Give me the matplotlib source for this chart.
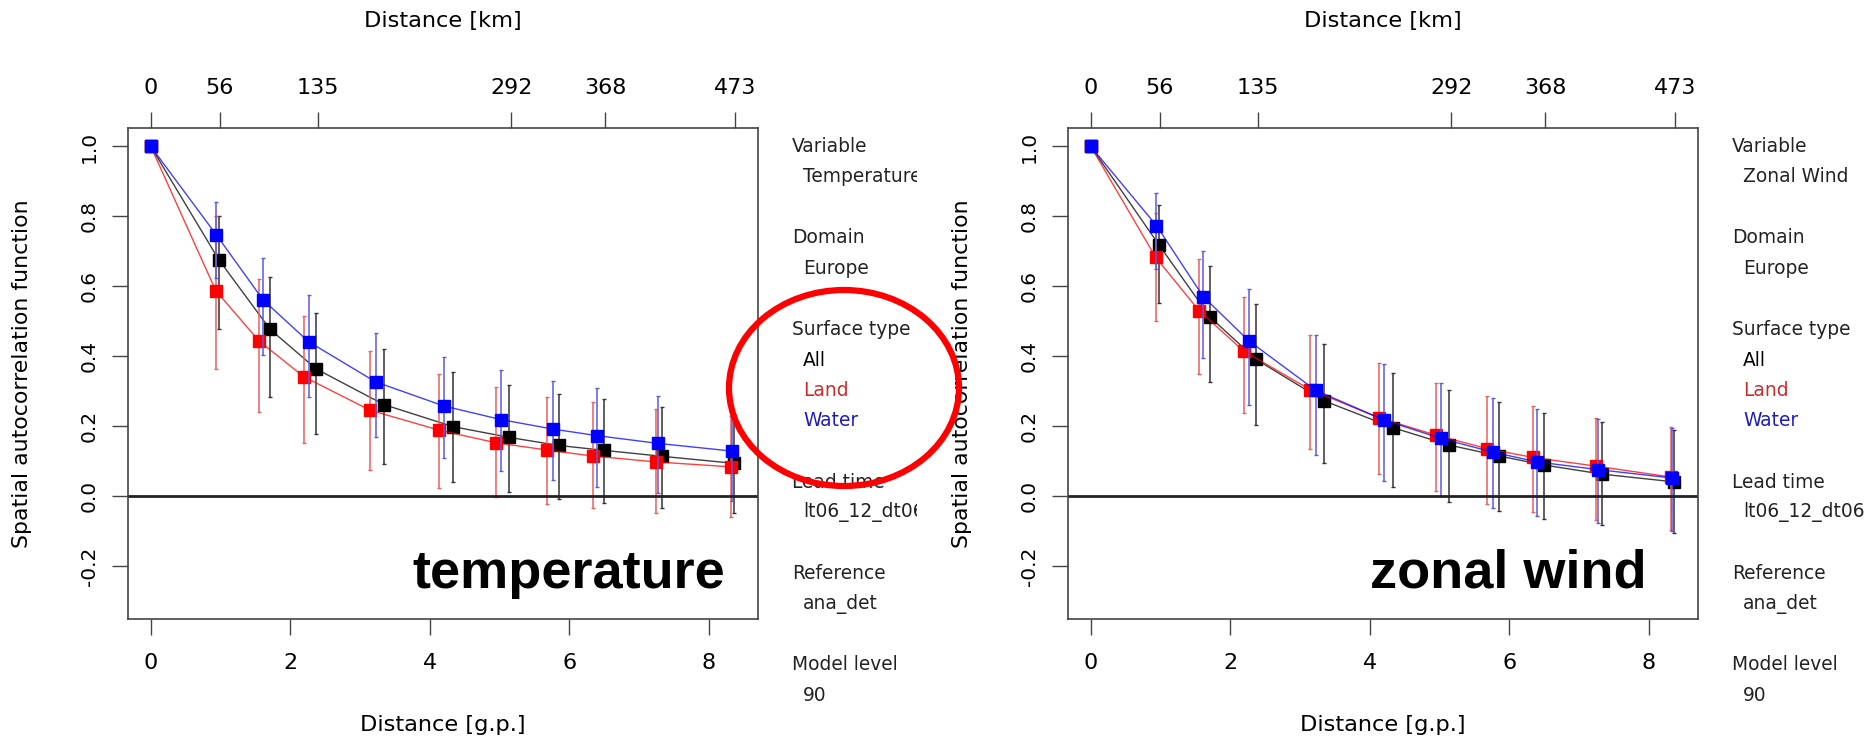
import matplotlib
matplotlib.use("Agg")
import matplotlib.pyplot as plt
from matplotlib.patches import Ellipse, Rectangle
import numpy as np

plt.rcParams['font.family'] = ['DejaVu Sans']

# distance of each bin in grid points (same bins in both panels)
x_all = [0, 0.975, 1.71, 2.37, 3.34, 4.33, 5.14, 5.85, 6.50, 7.33, 8.36]
x_land = [0, 0.93, 1.55, 2.19, 3.14, 4.13, 4.94, 5.68, 6.33, 7.24, 8.31]
x_water = [0, 0.94, 1.61, 2.26, 3.22, 4.20, 5.02, 5.76, 6.40, 7.27, 8.33]

# temperature
t_all = [1.0, 0.676, 0.477, 0.364, 0.262, 0.199, 0.168, 0.145, 0.131, 0.114, 0.094]
t_all_lo = [1.0, 0.478, 0.283, 0.179, 0.092, 0.041, 0.012, -0.007, -0.019, -0.033, -0.048]
t_all_hi = [1.0, 0.802, 0.626, 0.523, 0.421, 0.354, 0.318, 0.292, 0.277, 0.254, 0.236]
t_land = [1.0, 0.588, 0.444, 0.342, 0.246, 0.189, 0.153, 0.132, 0.115, 0.098, 0.084]
t_land_lo = [1.0, 0.363, 0.241, 0.153, 0.074, 0.024, -0.002, -0.021, -0.033, -0.048, -0.059]
t_land_hi = [1.0, 0.800, 0.620, 0.516, 0.416, 0.348, 0.311, 0.284, 0.268, 0.248, 0.229]
t_water = [1.0, 0.747, 0.561, 0.442, 0.327, 0.258, 0.219, 0.192, 0.173, 0.151, 0.129]
t_water_lo = [1.0, 0.623, 0.404, 0.284, 0.168, 0.108, 0.073, 0.046, 0.027, 0.008, -0.015]
t_water_hi = [1.0, 0.840, 0.680, 0.575, 0.468, 0.399, 0.361, 0.330, 0.310, 0.287, 0.229]

# zonal wind
z_all = [1.0, 0.719, 0.512, 0.391, 0.273, 0.196, 0.146, 0.115, 0.089, 0.063, 0.041]
z_all_lo = [1.0, 0.553, 0.327, 0.203, 0.095, 0.027, -0.016, -0.042, -0.064, -0.083, -0.104]
z_all_hi = [1.0, 0.833, 0.658, 0.550, 0.435, 0.353, 0.303, 0.270, 0.239, 0.213, 0.189]
z_land = [1.0, 0.683, 0.531, 0.415, 0.305, 0.224, 0.175, 0.136, 0.111, 0.086, 0.055]
z_land_lo = [1.0, 0.502, 0.348, 0.237, 0.136, 0.063, 0.014, -0.023, -0.045, -0.069, -0.097]
z_land_hi = [1.0, 0.809, 0.678, 0.571, 0.461, 0.380, 0.325, 0.287, 0.258, 0.225, 0.197]
z_water = [1.0, 0.774, 0.571, 0.445, 0.303, 0.218, 0.165, 0.126, 0.098, 0.076, 0.052]
z_water_lo = [1.0, 0.649, 0.396, 0.261, 0.117, 0.044, 0.000, -0.033, -0.056, -0.078, -0.100]
z_water_hi = [1.0, 0.867, 0.702, 0.592, 0.461, 0.378, 0.323, 0.282, 0.249, 0.222, 0.196]

km_ticks = [0, 56, 135, 292, 368, 473]
km_per_gp = 56.5
gp_ticks = [0, 2, 4, 6, 8]
y_ticks = [-0.2, 0.0, 0.2, 0.4, 0.6, 0.8, 1.0]

W, H = 1868, 742
fig = plt.figure(figsize=(W / 100, H / 100), dpi=100)


def panel(x0, series, big_label, variable):
    ax = fig.add_axes([x0 / W, 1 - 619.3 / H, 630 / W, 491 / H])
    for xs, ys, lo, hi, c, ec in series:
        ys = np.array(ys)
        err = [ys - np.array(lo), np.array(hi) - ys]
        ax.errorbar(xs, ys, yerr=err, fmt='none', ecolor=ec, elinewidth=1.1,
                    capsize=1.5, capthick=1)
        ax.plot(xs, ys, color=c, lw=1.0, alpha=0.75)
        ax.plot(xs, ys, 's', color=c, ms=8.8, mec=c, lw=0)
    ax.axhline(0, color='#222222', lw=2)

    xmax = max(max(s[0]) for s in series)
    ax.set_xlim(-0.04 * xmax, 1.04 * xmax)
    ax.set_ylim(-0.3 - 0.052, 1.0 + 0.052)
    ax.set_xticks(gp_ticks, [str(v) for v in gp_ticks])
    ax.set_yticks(y_ticks, [f'{v:.1f}' for v in y_ticks], rotation=90, va='center')
    ax.tick_params(axis='both', length=11.5, width=1, color='#444444')
    ax.tick_params(axis='x', pad=13, labelsize=16)
    ax.tick_params(axis='y', pad=9, labelsize=14.5)
    for sp in ax.spines.values():
        sp.set_color('#444444')
        sp.set_linewidth(1.2)

    ax.set_xlabel('Distance [g.p.]', fontsize=16.2)
    ax.xaxis.set_label_coords(0.5, -0.195)
    ax.set_ylabel('Spatial autocorrelation function', fontsize=15.8)
    ax.yaxis.set_label_coords(-0.152, 0.5)

    sec = ax.secondary_xaxis('top', functions=(lambda g: g * km_per_gp,
                                               lambda k: k / km_per_gp))
    sec.set_xticks(km_ticks, [str(k) for k in km_ticks])
    sec.tick_params(length=11.5, width=1, color='#444444', labelsize=16, pad=10)
    sec.spines['top'].set_visible(False)
    fig.text((x0 + 315) / W, 1 - 21 / H, 'Distance [km]', fontsize=16.2,
             ha='center', va='center')

    ax.text(0.70, 0.064, big_label, transform=ax.transAxes, fontsize=39,
            fontweight='bold', family=['Liberation Sans', 'DejaVu Sans'],
            ha='center', va='baseline')

    # info column on the right
    info = [('Variable', [(variable, '#222222')]),
            ('Domain', [('Europe', '#222222')]),
            ('Surface type', [('All', 'black'), ('Land', '#cc2a2a'),
                              ('Water', '#1c1cc0')]),
            ('Lead time', [('lt06_12_dt06', '#222222')]),
            ('Reference', [('ana_det', '#222222')]),
            ('Model level', [('90', '#222222')])]
    tx = x0 + 664.5
    line = 0
    for head, vals in info:
        rows = [(head, '#222222', 0)] + [(v, c, 11) for v, c in vals]
        for txt, c, ind in rows:
            y = 146.5 + line * 30.5
            fig.text((tx + ind) / W, 1 - y / H, txt, color=c, fontsize=13.4,
                     ha='left', va='center', zorder=3)
            line += 1
        line += 1
    return ax


panel(127.5,
      [(x_all, t_all, t_all_lo, t_all_hi, 'black', '#333333'),
       (x_land, t_land, t_land_lo, t_land_hi, 'red', '#e86060'),
       (x_water, t_water, t_water_lo, t_water_hi, 'blue', '#5a5ae0')],
      'temperature', 'Temperature')
panel(1067.5,
      [(x_all, z_all, z_all_lo, z_all_hi, 'black', '#333333'),
       (x_land, z_land, z_land_lo, z_land_hi, 'red', '#e86060'),
       (x_water, z_water, z_water_lo, z_water_hi, 'blue', '#5a5ae0')],
      'zonal wind', 'Zonal Wind')

# the left picture is cut off at its right edge
fig.add_artist(Rectangle((917 / W, 0.03), 26 / W, 0.94, transform=fig.transFigure,
                         fc='white', ec='none', zorder=3.5))

fig.add_artist(Ellipse((844 / W, 1 - 388 / H), 230 / W, 196 / H,
                       transform=fig.transFigure, fill=False, ec='red', lw=4.5,
                       zorder=4))

fig.savefig('out.png', dpi=100)
